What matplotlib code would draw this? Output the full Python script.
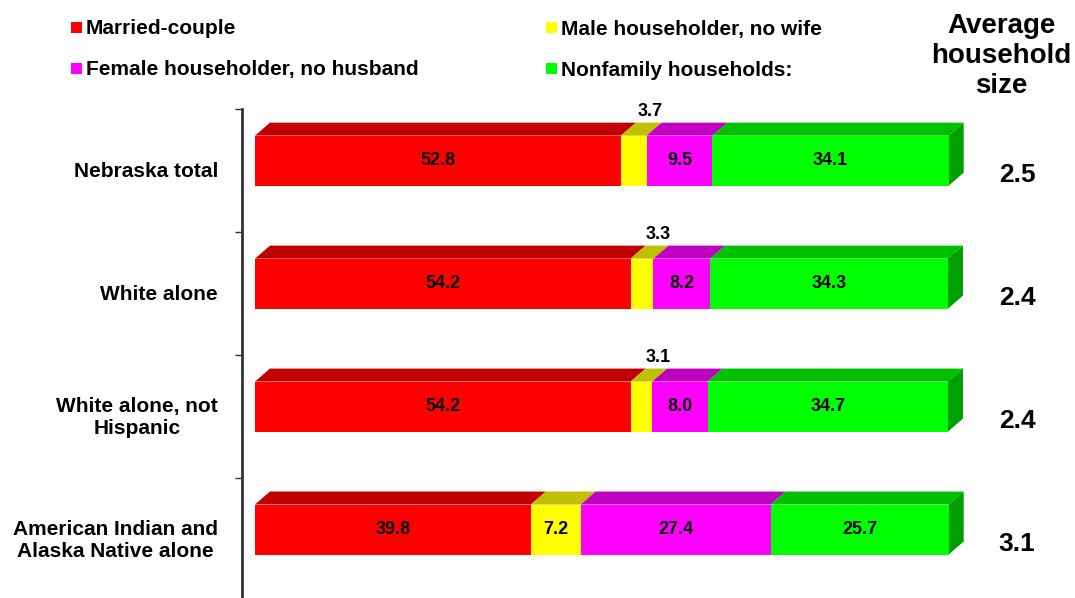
import matplotlib
matplotlib.use("Agg")
import matplotlib.pyplot as plt
from matplotlib.patches import Polygon, Rectangle
import numpy as np

plt.rcParams['font.family'] = ['Liberation Sans', 'DejaVu Sans']

categories = ["Nebraska total", "White alone", "White alone, not\nHispanic",
              "American Indian and\nAlaska Native alone"]
series_names = ["Married-couple", "Male householder, no wife",
                "Female householder, no husband", "Nonfamily households:"]
married = [52.8, 54.2, 54.2, 39.8]
male_no_wife = [3.7, 3.3, 3.1, 7.2]
female_no_husband = [9.5, 8.2, 8.0, 27.4]
nonfamily = [34.1, 34.3, 34.7, 25.7]
avg_size = ["2.5", "2.4", "2.4", "3.1"]

front_colors = ["#FF0000", "#FFFF00", "#FF00FF", "#00FF00"]
top_colors = ["#C00000", "#C0C000", "#C000C0", "#00C000"]
side_color = "#00A000"

W, H = 1075, 598
fig = plt.figure(figsize=(W / 100, H / 100), dpi=100)

# axes in pixel layout
ax_left_px, ax_top_px = 242, 109
ax = fig.add_axes([ax_left_px / W, 0, (W - ax_left_px) / W, (H - ax_top_px) / H])
px_per_x = 6.93      # pixels per percentage point
px_per_y = 123.0     # pixels per category
x0_px, y0_px = 255, 160.5
ax.set_xlim((ax_left_px - x0_px) / px_per_x, (W - x0_px) / px_per_x)
ax.set_ylim((H - y0_px) / px_per_y, (ax_top_px - y0_px) / px_per_y)

bar_h = 50 / px_per_y
dx = 15 / px_per_x
dy = 13 / px_per_y

series = [married, male_no_wife, female_no_husband, nonfamily]
y = np.arange(len(categories))
left = np.zeros(len(categories))
for s, vals in enumerate(series):
    vals = np.array(vals)
    ax.barh(y, vals, left=left, height=bar_h, color=front_colors[s],
            edgecolor='none', zorder=3)
    for i in range(len(categories)):
        xa, xb = left[i], left[i] + vals[i]
        yt = y[i] - bar_h / 2
        ax.add_patch(Polygon([(xa, yt), (xa + dx, yt - dy), (xb + dx, yt - dy), (xb, yt)],
                             closed=True, facecolor=top_colors[s], edgecolor='none', zorder=2))
        if s == len(series) - 1:
            yb = y[i] + bar_h / 2
            ax.add_patch(Polygon([(xb, yt), (xb + dx, yt - dy), (xb + dx, yb - dy), (xb, yb)],
                                 closed=True, facecolor=side_color, edgecolor='none', zorder=2))
        label = f"{vals[i]:.1f}"
        if vals[i] < 5:
            ax.text((xa + xb) / 2 + dx * 1.1, y[i] - 49 / px_per_y, label,
                    ha='center', va='center', fontsize=13, fontweight='bold',
                    clip_on=False, zorder=5)
        else:
            ax.text((xa + xb) / 2, y[i], label, ha='center', va='center',
                    fontsize=13, fontweight='bold', zorder=5)
    left = left + vals

# category labels
for i, c in enumerate(categories):
    ax.text((218 - x0_px) / px_per_x, y[i] + 11 / px_per_y, c, ha='right', va='center',
            multialignment='center', fontsize=15, fontweight='bold',
            linespacing=1.2, clip_on=False)

# average household size values
for i, v in enumerate(avg_size):
    ax.text((1017 - x0_px) / px_per_x, y[i] + 14 / px_per_y, v, ha='center',
            va='center', fontsize=19, fontweight='bold', clip_on=False)

fig.text(1001 / W, 1 - 56 / H, "Average\nhousehold\nsize", ha='center', va='center',
         fontsize=20, fontweight='bold', linespacing=1.2)

# axis styling
for sp in ['top', 'right', 'bottom']:
    ax.spines[sp].set_visible(False)
ax.spines['left'].set_linewidth(2)
ax.spines['left'].set_color('#333333')
ax.set_xticks([])
ax.set_yticks(y - 0.42)
ax.set_yticklabels([])
ax.tick_params(axis='y', length=5, width=1, color='#333333', direction='out')
ax.patch.set_alpha(0)

# legend (manual placement)
legend_pos = [(71, 27), (546, 27), (71, 68), (546, 68)]
for s, (lx, ly) in enumerate(legend_pos):
    fig.patches.append(Rectangle((lx / W, 1 - (ly + 5.5) / H), 11 / W, 11 / H,
                                 transform=fig.transFigure, facecolor=front_colors[s],
                                 edgecolor='none'))
    fig.text((lx + 15) / W, 1 - (ly + 2) / H, series_names[s], ha='left', va='center',
             fontsize=15, fontweight='bold')

fig.savefig("out.png", dpi=100)
